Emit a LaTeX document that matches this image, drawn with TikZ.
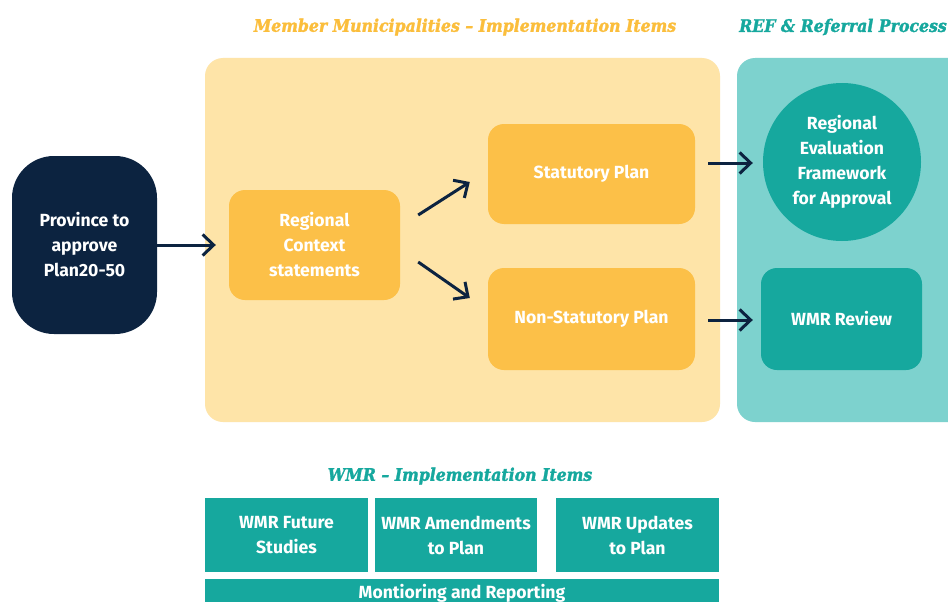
\documentclass[tikz,border=0pt]{standalone}
\usepackage{fontspec}
\setmainfont{Fira Sans}
\newfontfamily\titlefont{DejaVu Serif Bold Italic}[FakeStretch=0.91, FakeBold=1.6]
\usetikzlibrary{arrows.meta,calc}
\definecolor{navy}{RGB}{12,35,64}
\definecolor{ylbg}{RGB}{254,228,168}
\definecolor{orbox}{RGB}{252,192,72}
\definecolor{yltitle}{RGB}{251,190,60}
\definecolor{tealbg}{RGB}{125,210,206}
\definecolor{tealdk}{RGB}{22,168,158}
\tikzset{
  txt/.style={font=\fontsize{17.6}{25}\selectfont\bfseries, text=white, align=center, inner sep=0pt},
  obox/.style={txt, fill=orbox, rounded corners=16pt},
  tbox/.style={txt, fill=tealdk},
  ttl/.style={font=\titlefont\fontsize{17.3}{22}\selectfont, inner sep=0pt},
  arr/.style={draw=navy, line width=3pt, -{Straight Barb[length=11pt,width=21pt,line width=3pt]}}
}
\begin{document}
\begin{tikzpicture}[x=1pt,y=-1pt]
\clip (0,0) rectangle (948,602);
\fill[white] (0,0) rectangle (948,602);
% background panels
\fill[ylbg, rounded corners=18pt] (205,58) rectangle (720,422);
\fill[tealbg, rounded corners=18pt] (737,58) rectangle (970,422);
% titles
\node[ttl, text=yltitle] (t1) at (465,27) {Member Municipalities – Implementation Items};
\node[ttl, text=tealdk] (t2) at (843,27) {REF \& Referral Process};
\node[ttl, text=tealdk] (t3) at (460,476) {WMR – Implementation Items};
% nodes
\node[txt, fill=navy, rounded corners=42pt, minimum width=145pt, minimum height=178pt] (prov) at (84.5,245) {Province to\\approve\\Plan20-50};
\node[obox, minimum width=171pt, minimum height=110pt] (reg) at (314.5,245) {Regional\\Context\\statements};
\node[obox, minimum width=207pt, minimum height=100pt] (stat) at (591.5,174) {Statutory Plan};
\node[obox, minimum width=207pt, minimum height=102pt] (nstat) at (591.5,319) {Non-Statutory Plan};
\node[txt, fill=tealdk, circle, minimum size=158pt] (ref) at (842,162) {Regional\\Evaluation\\Framework\\for Approval};
\node[txt, fill=tealdk, rounded corners=16pt, minimum width=161pt, minimum height=102pt] (wmr) at (841.5,319) {WMR Review};
% bottom boxes
\node[tbox, minimum width=163pt, minimum height=74pt] (fut) at (286.5,535) {WMR Future\\Studies};
\node[tbox, minimum width=162pt, minimum height=74pt] (amd) at (456,535) {WMR Amendments\\to Plan};
\node[tbox, minimum width=163pt, minimum height=74pt] (upd) at (637.5,535) {WMR Updates\\to Plan};
\fill[tealdk] (205,579) rectangle (719,615);
\node[txt] (mon) at (462,593) {Montioring and Reporting};
% arrows
\draw[arr] (prov.east) -- ($(reg.west)+(-13,0)$);
\draw[arr] ($(reg.east)+(18,-30)$) -- ($(stat.west)+(-18,8)$);
\draw[arr] ($(reg.east)+(18,17)$) -- ($(nstat.west)+(-18,-21)$);
\draw[arr] ($(stat.east)+(13,-11)$) -- ($(ref.west)+(-10,1)$);
\draw[arr] ($(nstat.east)+(13,1)$) -- ($(wmr.west)+(-8,1)$);
\end{tikzpicture}
\end{document}
